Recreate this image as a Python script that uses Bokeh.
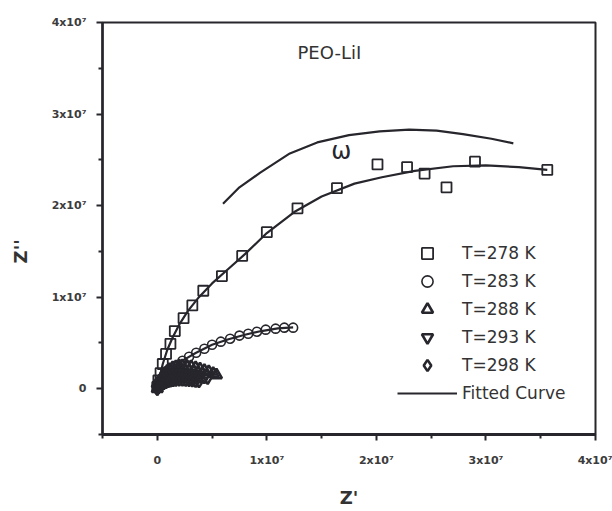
import numpy as np
from bokeh.plotting import figure
from bokeh.layouts import row
from bokeh.models import (Range1d, FixedTicker, CustomJSTickFormatter, Legend,
                          LegendItem, Label)
from bokeh.core.properties import value
from bokeh.embed import file_html
from bokeh.resources import INLINE

E7 = 1e7  # values below are given in units of 1x10^7

# T = 278 K (squares)
z_re_278 = [0.0, 0.01, 0.03, 0.05, 0.08, 0.12, 0.16, 0.24, 0.32, 0.42, 0.59, 0.775,
            1.00, 1.28, 1.64, 2.01, 2.28, 2.44, 2.64, 2.90, 3.56]
z_im_278 = [0.02, 0.09, 0.17, 0.27, 0.38, 0.49, 0.63, 0.77, 0.91, 1.07, 1.23, 1.45,
            1.71, 1.97, 2.19, 2.45, 2.42, 2.35, 2.20, 2.48, 2.39]

# T = 283 K (circles)
z_re_283 = [0.0, 0.02, 0.045, 0.08, 0.13, 0.17, 0.23, 0.29, 0.355, 0.43, 0.50, 0.58,
            0.665, 0.75, 0.83, 0.91, 0.99, 1.08, 1.16, 1.24]
z_im_283 = [0.0, 0.044, 0.087, 0.14, 0.197, 0.25, 0.306, 0.35, 0.393, 0.437, 0.48, 0.514,
            0.546, 0.58, 0.60, 0.623, 0.645, 0.656, 0.667, 0.667]

# T = 288 K (triangles)
z_re_288 = [0.0, 0.01, 0.02, 0.035, 0.05, 0.07, 0.09, 0.11, 0.14, 0.17, 0.20, 0.23,
            0.27, 0.31, 0.35, 0.39, 0.43, 0.47, 0.51, 0.54]
z_im_288 = [0.0, 0.04, 0.08, 0.11, 0.14, 0.17, 0.19, 0.21, 0.23, 0.24, 0.25, 0.25,
            0.245, 0.24, 0.23, 0.215, 0.20, 0.185, 0.165, 0.15]

# T = 293 K (inverted triangles)
z_re_293 = [0.0, 0.01, 0.02, 0.03, 0.045, 0.06, 0.08, 0.10, 0.12, 0.15, 0.18, 0.21,
            0.24, 0.27, 0.30, 0.33, 0.36, 0.39, 0.43, 0.46]
z_im_293 = [0.0, 0.025, 0.05, 0.07, 0.09, 0.11, 0.13, 0.145, 0.155, 0.165, 0.17, 0.17,
            0.168, 0.163, 0.157, 0.15, 0.143, 0.135, 0.127, 0.12]

# T = 298 K (diamonds)
z_re_298 = [0.0, 0.01, 0.02, 0.03, 0.045, 0.06, 0.08, 0.10, 0.12, 0.145, 0.17, 0.20,
            0.23, 0.26, 0.29, 0.32, 0.35, 0.38]
z_im_298 = [0.0, 0.015, 0.03, 0.04, 0.05, 0.06, 0.07, 0.08, 0.087, 0.092, 0.096, 0.098,
            0.098, 0.096, 0.093, 0.089, 0.085, 0.08]

# Fitted curves
fit_re_278 = [0.0, 0.02, 0.05, 0.09, 0.14, 0.20, 0.28, 0.38, 0.50, 0.64, 0.80, 1.00, 1.25,
              1.50, 1.80, 2.05, 2.35, 2.70, 3.00, 3.30, 3.56]
fit_im_278 = [0.0, 0.12, 0.27, 0.42, 0.56, 0.70, 0.85, 1.00, 1.15, 1.30, 1.47, 1.70, 1.93,
              2.10, 2.24, 2.31, 2.38, 2.43, 2.44, 2.42, 2.39]
fit_re_283 = [0.0, 0.02, 0.05, 0.10, 0.17, 0.25, 0.35, 0.50, 0.65, 0.80, 0.95, 1.10, 1.24]
fit_im_283 = [0.0, 0.045, 0.10, 0.17, 0.25, 0.32, 0.39, 0.48, 0.54, 0.59, 0.63, 0.66, 0.67]
fit_re_288 = [0.0, 0.03, 0.08, 0.15, 0.24, 0.34, 0.44, 0.54]
fit_im_288 = [0.0, 0.10, 0.18, 0.23, 0.25, 0.235, 0.20, 0.15]
fit_re_293 = [0.0, 0.02, 0.06, 0.12, 0.20, 0.28, 0.37, 0.46]
fit_im_293 = [0.0, 0.05, 0.11, 0.155, 0.17, 0.16, 0.14, 0.12]
fit_re_298 = [0.0, 0.02, 0.06, 0.12, 0.19, 0.27, 0.38]
fit_im_298 = [0.0, 0.03, 0.06, 0.087, 0.097, 0.094, 0.08]

# Upper curve marked with omega
omega_re = [0.60, 0.75, 0.94, 1.21, 1.46, 1.75, 2.03, 2.30, 2.55, 2.79, 3.05, 3.25]
omega_im = [2.02, 2.20, 2.36, 2.57, 2.69, 2.77, 2.81, 2.83, 2.82, 2.78, 2.73, 2.68]

labels = ["T=278 K", "T=283 K", "T=288 K", "T=293 K", "T=298 K", "Fitted Curve"]
x_ticks = [0, 1, 2, 3, 4]
y_ticks = [0, 1, 2, 3, 4]
minor = [-0.5, 0.5, 1.5, 2.5, 3.5]

INK = "#26262c"
TXT = "#333333"


def s(a):
    return np.array(a) * E7


yr = Range1d(-0.5 * E7, 4.0 * E7)

p = figure(width=572, height=511, output_backend="svg", toolbar_location=None,
           x_range=Range1d(-0.5 * E7, 4.0 * E7), y_range=yr,
           min_border_left=62, min_border_right=17, min_border_top=22, min_border_bottom=77)
p.grid.visible = False
p.background_fill_color = "white"
p.border_fill_color = "white"
p.outline_line_color = INK
p.outline_line_width = 2

# narrow strip on the left that carries the rotated Z'' label (shares the y range)
side = figure(width=40, height=511, output_backend="svg", toolbar_location=None,
              x_range=Range1d(0, 40), y_range=yr,
              x_axis_location=None, y_axis_location=None,
              min_border_left=0, min_border_right=0,
              min_border_top=22, min_border_bottom=77)
side.grid.visible = False
side.outline_line_color = None
side.text(x=[20], y=[1.5 * E7], text=["Z''"], angle=np.pi / 2,
          text_font=value("DejaVu Sans"), text_font_size="18px", text_font_style="bold",
          text_color=TXT, text_align="center", text_baseline="middle")

fmt = CustomJSTickFormatter(code="""
    if (Math.abs(tick) < 1) { return "0"; }
    return Math.round(tick / 1e7) + "x10\u2077";
""")

for ax, ticks in ((p.xaxis[0], x_ticks), (p.yaxis[0], y_ticks)):
    ax.ticker = FixedTicker(ticks=[t * E7 for t in ticks], minor_ticks=[m * E7 for m in minor])
    ax.formatter = fmt
    ax.axis_line_color = INK
    ax.major_tick_line_color = INK
    ax.minor_tick_line_color = INK
    ax.major_tick_line_width = 2
    ax.minor_tick_line_width = 2
    ax.major_tick_out = 6
    ax.major_tick_in = 0
    ax.minor_tick_out = 4
    ax.minor_tick_in = 0
    ax.major_label_text_font = "DejaVu Sans"
    ax.major_label_text_font_size = "11px"
    ax.major_label_text_font_style = "bold"
    ax.major_label_text_color = "#3c3c3c"

p.xaxis.axis_line_width = 3
p.yaxis.axis_line_width = 2.5
p.xaxis.major_label_standoff = 13
p.yaxis.major_label_standoff = 10
p.xaxis.axis_label = "Z'"
p.xaxis.axis_label_text_font = "DejaVu Sans"
p.xaxis.axis_label_text_font_size = "18px"
p.xaxis.axis_label_text_font_style = "bold"
p.xaxis.axis_label_text_color = TXT
p.xaxis.axis_label_standoff = 17

# fitted curves and omega curve
lw = 2.2
fit = p.line(s(fit_re_278), s(fit_im_278), line_color=INK, line_width=lw)
p.line(s(fit_re_283), s(fit_im_283), line_color=INK, line_width=lw)
p.line(s(fit_re_288), s(fit_im_288), line_color=INK, line_width=lw)
p.line(s(fit_re_293), s(fit_im_293), line_color=INK, line_width=lw)
p.line(s(fit_re_298), s(fit_im_298), line_color=INK, line_width=lw)
p.line(s(omega_re), s(omega_im), line_color=INK, line_width=lw)

r278 = p.scatter(s(z_re_278), s(z_im_278), marker="square", size=10, line_color=INK,
                 line_width=1.8, fill_color=None)
r283 = p.scatter(s(z_re_283), s(z_im_283), marker="circle", size=9, line_color=INK,
                 line_width=1.6, fill_color=None)
r288 = p.scatter(s(z_re_288), s(z_im_288), marker="triangle", size=11, line_color=INK,
                 line_width=2.6, fill_color=None)
r293 = p.scatter(s(z_re_293), s(z_im_293), marker="inverted_triangle", size=11,
                 line_color=INK, line_width=2.6, fill_color=None)
r298 = p.scatter(s(z_re_298), s(z_im_298), marker="diamond", size=12, line_color=INK,
                 line_width=2.6, fill_color=None)

legend = Legend(items=[LegendItem(label=lab, renderers=[r])
                       for lab, r in zip(labels, [r278, r283, r288, r293, r298, fit])],
                location=(295, 27), orientation="vertical",
                glyph_width=60, glyph_height=28, label_height=28, spacing=0,
                padding=0, margin=0, label_standoff=5,
                border_line_color=None, background_fill_alpha=0,
                label_text_font="DejaVu Sans", label_text_font_size="17px",
                label_text_color=TXT)
p.add_layout(legend, "center")

p.add_layout(Label(x=1.28 * E7, y=3.67 * E7, text="PEO-LiI", text_font="DejaVu Sans",
                   text_font_size="18px", text_color=TXT, text_baseline="middle"))
p.add_layout(Label(x=1.68 * E7, y=2.60 * E7, text="\u03c9", text_font="DejaVu Sans",
                   text_font_size="24px", text_color=INK, text_align="center",
                   text_baseline="middle"))

layout = row(side, p, spacing=0)
open("out.html", "w").write(file_html(layout, INLINE))
